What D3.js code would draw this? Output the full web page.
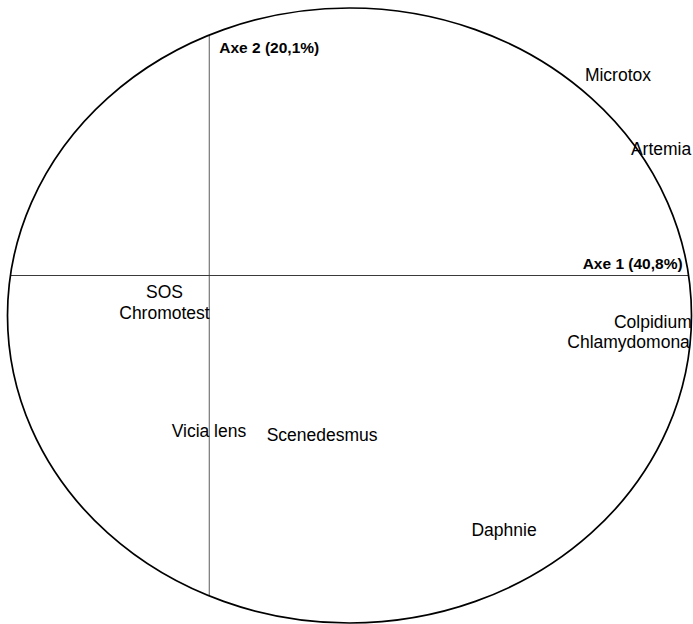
<!DOCTYPE html>
<html>
<head>
<meta charset="utf-8">
<script src="https://cdn.jsdelivr.net/npm/d3@7"></script>
<style>
  html, body { margin: 0; padding: 0; background: #fff; }
  svg { display: block; }
</style>
</head>
<body>
<svg id="chart" width="693" height="624"></svg>
<script>
// Variables (label anchor positions on factorial plane, Axe 1 / Axe 2)
const labels  = ["Microtox", "Artemia", "SOS", "Chromotest", "Colpidium", "Chlamydomona", "Vicia lens", "Scenedesmus", "Daphnie"];
const axe1    = [1.195, 1.321, -0.131, -0.131, 1.297, 1.226, -0.001, 0.330, 0.862];
const axe2    = [0.633, 0.392, -0.072, -0.142, -0.172, -0.237, -0.524, -0.538, -0.847];
const axisTitles = ["Axe 1 (40,8%)", "Axe 2 (20,1%)"];
// correlation circle (centre and radius, in axis units)
const circleCentre = [0.41, -0.13];
const circleRadius = 1;

const svg = d3.select("#chart");
const x = d3.scaleLinear().domain([-0.59, 1.41]).range([7.5, 691.5]);
const y = d3.scaleLinear().domain([-1.13, 0.87]).range([623, 8]);

// Axes lines clipped to circle
const dyV = Math.sqrt(circleRadius * circleRadius - circleCentre[0] * circleCentre[0]);
const dxH = Math.sqrt(circleRadius * circleRadius - circleCentre[1] * circleCentre[1]);

svg.append("line")
  .attr("x1", x(0)).attr("x2", x(0))
  .attr("y1", y(circleCentre[1] + dyV)).attr("y2", y(circleCentre[1] - dyV))
  .attr("stroke", "#6a6a6a").attr("stroke-width", 1.1);

svg.append("line")
  .attr("x1", x(circleCentre[0] - dxH)).attr("x2", x(circleCentre[0] + dxH))
  .attr("y1", y(0)).attr("y2", y(0))
  .attr("stroke", "#3a3a3a").attr("stroke-width", 1.1);

// Circle (ellipse on screen)
svg.append("ellipse")
  .attr("cx", x(circleCentre[0])).attr("cy", y(circleCentre[1]))
  .attr("rx", x(circleCentre[0] + circleRadius) - x(circleCentre[0]))
  .attr("ry", y(circleCentre[1]) - y(circleCentre[1] + circleRadius))
  .attr("fill", "none").attr("stroke", "#000").attr("stroke-width", 1.7);

// Axis titles
svg.append("text")
  .attr("x", x(circleCentre[0] + dxH) - 6).attr("y", y(0) - 7)
  .attr("text-anchor", "end")
  .attr("font-family", "'Liberation Sans', Arial, sans-serif")
  .attr("font-weight", "bold").attr("font-size", 15.5)
  .text(axisTitles[0]);

svg.append("text")
  .attr("x", x(0) + 10).attr("y", 53)
  .attr("text-anchor", "start")
  .attr("font-family", "'Liberation Sans', Arial, sans-serif")
  .attr("font-weight", "bold").attr("font-size", 15.5)
  .text(axisTitles[1]);

// Variable labels
svg.append("g").selectAll("text")
  .data(labels)
  .join("text")
  .attr("x", (d, i) => x(axe1[i]))
  .attr("y", (d, i) => y(axe2[i]))
  .attr("text-anchor", "middle")
  .attr("font-family", "'Liberation Sans', Arial, sans-serif")
  .attr("font-size", 17.5)
  .attr("fill", "#000")
  .text(d => d);
</script>
</body>
</html>
